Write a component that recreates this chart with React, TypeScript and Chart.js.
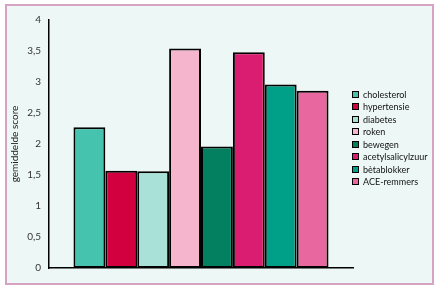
import React, { useEffect, useRef } from "react";
import { Chart, registerables } from "chart.js";

Chart.register(...registerables);

const seriesNames = [
  "cholesterol",
  "hypertensie",
  "diabetes",
  "roken",
  "bewegen",
  "acetylsalicylzuur",
  "bètablokker",
  "ACE-remmers",
];
const seriesValues = [2.27, 1.57, 1.56, 3.54, 1.96, 3.48, 2.96, 2.86];
const seriesColors = [
  "#45c3ae",
  "#d2003f",
  "#a9e1d8",
  "#f4b5cd",
  "#02805f",
  "#da1d70",
  "#00a088",
  "#e8679f",
];
const yTitle = "gemiddelde score";

export default function App() {
  const ref = useRef<HTMLCanvasElement>(null);

  useEffect(() => {
    document.body.style.margin = "0";
    const ctx = ref.current!;
    const chart = new Chart(ctx, {
      type: "bar",
      data: {
        labels: [""],
        datasets: seriesNames.map((name, i) => ({
          label: name,
          data: [seriesValues[i]],
          backgroundColor: seriesColors[i],
          borderColor: "#000",
          borderWidth: 2,
          borderSkipped: false,
          categoryPercentage: 0.839,
          barPercentage: 1,
        })),
      },
      options: {
        animation: false,
        responsive: false,
        maintainAspectRatio: false,
        layout: { padding: { left: 7, top: 20, right: 87, bottom: 24 } },
        plugins: { legend: { display: false }, tooltip: { enabled: false } },
        scales: {
          x: {
            grid: { display: false, drawTicks: false },
            ticks: { display: false },
            border: { display: true, color: "#000", width: 1.5 },
          },
          y: {
            min: 0,
            max: 4,
            grid: { display: false, drawTicks: false },
            border: { display: true, color: "#000", width: 1.5 },
            ticks: {
              stepSize: 0.5,
              padding: 8,
              color: "#333",
              font: { family: "Lato", size: 10 },
              callback: (v: any) => String(v).replace(".", ","),
            },
            title: {
              display: true,
              text: yTitle,
              color: "#222",
              padding: { top: 2, bottom: 0 },
              font: { family: "Lato", size: 10 },
            },
            afterFit: (s: any) => {
              s.width = 42;
            },
          },
        },
      },
    });
    return () => chart.destroy();
  }, []);

  return (
    <div style={{ position: "fixed", left: 0, top: 0, width: 440, height: 292, background: "#fff" }}>
      <div
        style={{
          position: "absolute",
          left: 5,
          top: 4,
          width: 425,
          height: 277,
          border: "2px solid #d6a3c3",
          background: "#edf8f6",
        }}
      />
      <canvas ref={ref} width={440} height={292} style={{ position: "absolute", left: 0, top: 0, width: 440, height: 292 }} />
      <div style={{ position: "absolute", left: 352, top: 88 }}>
        {seriesNames.map((n, i) => (
          <div key={n} style={{ display: "flex", alignItems: "center", height: 12.5, fontFamily: "Lato", fontSize: 9, color: "#111" }}>
            <span
              style={{
                display: "inline-block",
                width: 5,
                height: 5,
                border: "1.5px solid #000",
                background: seriesColors[i],
                marginRight: 4,
              }}
            />
            <span>{n}</span>
          </div>
        ))}
      </div>
    </div>
  );
}
